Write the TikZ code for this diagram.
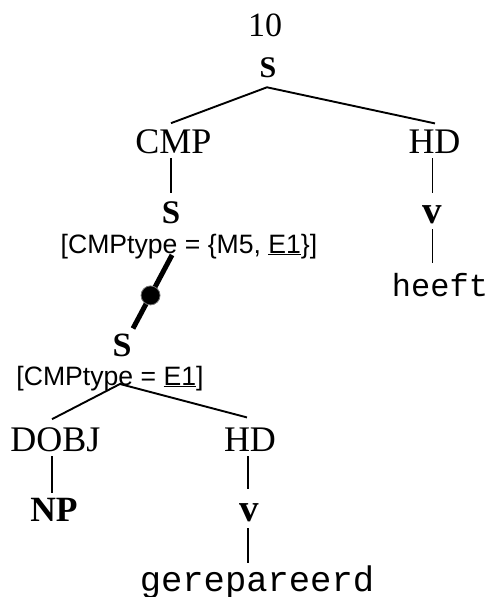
\documentclass[tikz,border=0pt]{standalone}
\usepackage{fontspec}
\setmainfont{Liberation Serif}
\newfontfamily\sansf{Liberation Sans}
\newfontfamily\monof{Liberation Mono}
\usetikzlibrary{calc}
\begin{document}
\begin{tikzpicture}[x=1pt,y=-1pt,
  lab/.style={inner sep=0pt, outer sep=0pt, anchor=base},
  rm/.style={lab, font=\fontsize{36}{40}\selectfont},
  bf/.style={lab, font=\fontsize{#1}{#1}\selectfont\bfseries},
  feat/.style={lab, font=\sansf\fontsize{26.6}{30}\selectfont},
  word/.style={lab, font=\monof\fontsize{#1}{#1}\selectfont},
  edge/.style={line width=1.9pt},
  vedge/.style={line width=1.6pt},
  fold/.style={line width=5pt},
  dotmark/.style={circle, fill=black, draw=black!55, line width=0.8pt, minimum size=19pt, inner sep=0pt}
]
\useasboundingbox (0,0) rectangle (492,597);
% nodes
\node[lab, font=\fontsize{34}{40}\selectfont] (n10) at (265,36) {10};
\node[bf=30] (S0) at (268,77) {S};
\node[rm] (CMP) at (173.5,153) {CMP};
\node[rm] (HD1) at (434.5,153) {HD};
\node[bf=33] (S1) at (171,223) {S};
\node[feat] (feat1) at (189,253) {[CMPtype = \{M5, \underline{E1}\}]};
\node[bf=39] (v1) at (432.5,223) {v};
\node[word=32] (heeft) at (440,296) {heeft};
\node[bf=34] (S2) at (122,356) {S};
\node[feat] (feat2) at (110,385) {[CMPtype = \underline{E1}]};
\node[rm] (DOBJ) at (55.5,451) {DOBJ};
\node[rm] (HD2) at (250,451) {HD};
\node[bf=35.5] (NP) at (54,521) {NP};
\node[bf=39] (v2) at (249.5,521) {v};
\node[word=35.5] (ger) at (257,591) {gerepareerd};
% top fork
\draw[edge] ($(CMP.north)+(-2.5,-6)$) -- ($(S0.south)+(-1,10)$) -- ($(HD1.north)+(0.5,-6)$);
% CMP -> S
\draw[vedge] ($(S1.north |- CMP.south)+(0,5)$) -- ($(S1.north)+(0,-8)$);
% HD -> v -> heeft
\draw[vedge] ($(v1.north |- HD1.south)+(0,5)$) -- ($(v1.north)+(0,-12)$);
\draw[vedge] ($(v1.south)+(0,6)$) -- ($(v1.south |- heeft.north)+(0,-10)$);
% folded link
\draw[fold] ($(feat1.base)+(-17,2)$) -- node[dotmark, pos=0.55] (dot) {} ($(S2.north)+(11,-5)$);
% lower fork
\draw[edge] ($(DOBJ.north)+(-3.5,-8)$) -- ($(feat2.base)+(10,-1)$) -- ($(HD2.north)+(-3,-10)$);
% DOBJ -> NP
\draw[vedge] ($(DOBJ.south)+(-3.5,5)$) -- ($(DOBJ.south |- NP.north)+(-3.5,-5)$);
% HD -> v -> gerepareerd
\draw[vedge] ($(v2.north |- HD2.south)+(-1.5,5)$) -- ($(v2.north)+(-1.5,-14)$);
\draw[vedge] ($(v2.south)+(-1.5,7)$) -- ($(v2.south)+(-1.5,42)$);
\end{tikzpicture}
\end{document}
